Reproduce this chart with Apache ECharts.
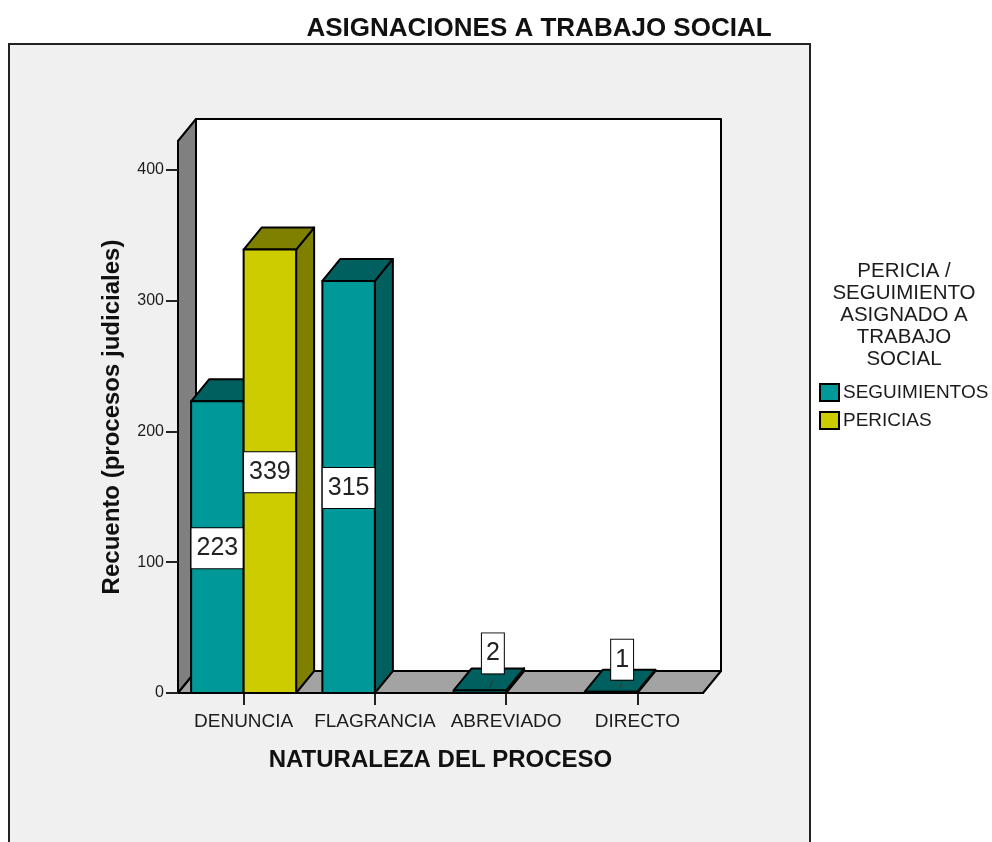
<!DOCTYPE html>
<html>
<head>
<meta charset="utf-8">
<style>html,body{margin:0;padding:0;background:#fff}#chart{width:992px;height:842px}</style>
<script src="https://cdn.jsdelivr.net/npm/echarts@6/dist/echarts.min.js"></script>
</head>
<body>
<div id="chart"></div>
<script>
// datos
var categories = ['DENUNCIA', 'FLAGRANCIA', 'ABREVIADO', 'DIRECTO'];
var seguimientos = [223, 315, 2, 1];
var pericias = [339, null, null, null];
var yTicks = [0, 100, 200, 300, 400];
var yMax = 422;

var DX = 18, DY = 22;   // profundidad del efecto 3D
var FONT = '"Liberation Sans", Arial, sans-serif';
var INK = '#1c1c1c';

function toData(arr) {
    return arr.map(function (v, i) { return [i, v]; }).filter(function (d) { return d[1] != null; });
}

function poly(points, fill) {
    return {
        type: 'polygon',
        shape: { points: points },
        style: { fill: fill, stroke: '#000', lineWidth: 2, lineJoin: 'round' }
    };
}

// paredes y suelo del grafico
function renderWalls(params) {
    var c = params.coordSys;
    var l = c.x, r = c.x + c.width, t = c.y, b = c.y + c.height;
    return {
        type: 'group',
        children: [
            poly([[l + DX, t - DY], [r + DX, t - DY], [r + DX, b - DY], [l + DX, b - DY]], '#ffffff'),
            poly([[l, t], [l + DX, t - DY], [l + DX, b - DY], [l, b]], '#808080'),
            poly([[l, b], [l + DX, b - DY], [r + DX, b - DY], [r, b]], '#a3a3a3')
        ]
    };
}

// side: -1 barra a la izquierda de la marca, 0 a la derecha
function makeBar(side, front, dark) {
    return function (params, api) {
        var cat = api.value(0), val = api.value(1);
        var top = api.coord([cat, val]);
        var zero = api.coord([cat, 0]);
        var w = api.size([1, 0])[0] * 0.4;
        var x0 = top[0] + side * w, x1 = x0 + w;
        var y0 = top[1], y1 = zero[1];
        var cx = (x0 + x1) / 2, cy = (y0 + y1) / 2 + 1;
        var children = [
            poly([[x1, y0], [x1 + DX, y0 - DY], [x1 + DX, y1 - DY], [x1, y1]], dark),
            poly([[x0, y0], [x0 + DX, y0 - DY], [x1 + DX, y0 - DY], [x1, y0]], dark),
            poly([[x0, y0], [x1, y0], [x1, y1], [x0, y1]], front)
        ];
        var small = val < 20;
        if (small) {
            // etiqueta levantada sobre las barras muy bajas
            cx += DX / 2 + (val > 1 ? 4 : 2);
            cy = y0 - (val > 1 ? 37 : 32);
            children.push({
                type: 'line',
                shape: { x1: cx - 3, y1: y0 - 3, x2: cx, y2: y0 - 10 },
                style: { stroke: '#333', lineWidth: 1 }
            });
        }
        children.push({
            type: 'text',
            style: {
                text: String(val), x: cx, y: cy, align: 'center', verticalAlign: 'middle',
                font: '25px ' + FONT, fill: '#222',
                backgroundColor: '#fff', borderColor: '#000', borderWidth: 1,
                padding: small ? [8, 4, 7, 4] : [8, 5, 7, 5]
            }
        });
        return { type: 'group', children: children };
    };
}

var chart = echarts.init(document.getElementById('chart'));
chart.setOption({
    animation: false,
    backgroundColor: '#ffffff',
    title: [
        {
            text: 'ASIGNACIONES A TRABAJO SOCIAL', left: 534, top: 11, textAlign: 'center',
            textStyle: { fontFamily: FONT, fontSize: 26, fontWeight: 'bold', color: '#111' }
        },
        {
            text: 'PERICIA /\nSEGUIMIENTO\nASIGNADO A\nTRABAJO\nSOCIAL', left: 899, top: 255, textAlign: 'center',
            textStyle: { fontFamily: FONT, fontSize: 20.5, fontWeight: 'normal', color: INK, lineHeight: 22 }
        }
    ],
    graphic: [{
        type: 'rect', z: 0,
        shape: { x: 9, y: 44, width: 801, height: 820 },
        style: { fill: '#f0f0f0', stroke: '#222', lineWidth: 2 }
    }],
    legend: {
        orient: 'vertical', left: 814, top: 378, itemWidth: 19, itemHeight: 17, itemGap: 9, icon: 'rect',
        data: ['SEGUIMIENTOS', 'PERICIAS'],
        textStyle: { fontFamily: FONT, fontSize: 19, color: INK, padding: [0, 0, 0, -1] }
    },
    grid: { left: 178, width: 525, top: 141, height: 552, containLabel: false },
    xAxis: {
        type: 'category',
        data: categories,
        z: 4,
        name: 'NATURALEZA DEL PROCESO',
        nameLocation: 'middle',
        nameGap: 55,
        nameTextStyle: { fontFamily: FONT, fontSize: 24, fontWeight: 'bold', color: '#111' },
        axisLine: { lineStyle: { color: '#000', width: 2 } },
        axisTick: { show: true, alignWithLabel: true, length: 12, lineStyle: { color: '#222', width: 2 } },
        axisLabel: { interval: 0, margin: 19, fontFamily: FONT, fontSize: 19, color: INK }
    },
    yAxis: {
        type: 'value',
        min: 0,
        max: yMax,
        z: 4,
        name: 'Recuento (procesos judiciales)',
        nameLocation: 'middle',
        nameGap: 54,
        nameTextStyle: { fontFamily: FONT, fontSize: 24, fontWeight: 'bold', color: '#111' },
        splitLine: { show: false },
        axisLine: { show: true, lineStyle: { color: '#000', width: 2 } },
        axisTick: { show: true, length: 12, customValues: yTicks, lineStyle: { color: '#222', width: 2 } },
        axisLabel: { customValues: yTicks, margin: 14, padding: [5, 0, 0, 0], fontFamily: FONT, fontSize: 16, color: INK }
    },
    series: [
        { type: 'custom', z: 1, silent: true, data: [[0, 0]], renderItem: renderWalls, legendHoverLink: false },
        {
            type: 'custom', name: 'SEGUIMIENTOS', z: 5, clip: false, data: toData(seguimientos),
            itemStyle: { color: '#009999', borderColor: '#000', borderWidth: 2 },
            encode: { x: 0, y: 1 }, renderItem: makeBar(-1, '#009999', '#006060')
        },
        {
            type: 'custom', name: 'PERICIAS', z: 6, clip: false, data: toData(pericias),
            itemStyle: { color: '#cccc00', borderColor: '#000', borderWidth: 2 },
            encode: { x: 0, y: 1 }, renderItem: makeBar(0, '#cccc00', '#7f7f00')
        }
    ]
});
</script>
</body>
</html>
